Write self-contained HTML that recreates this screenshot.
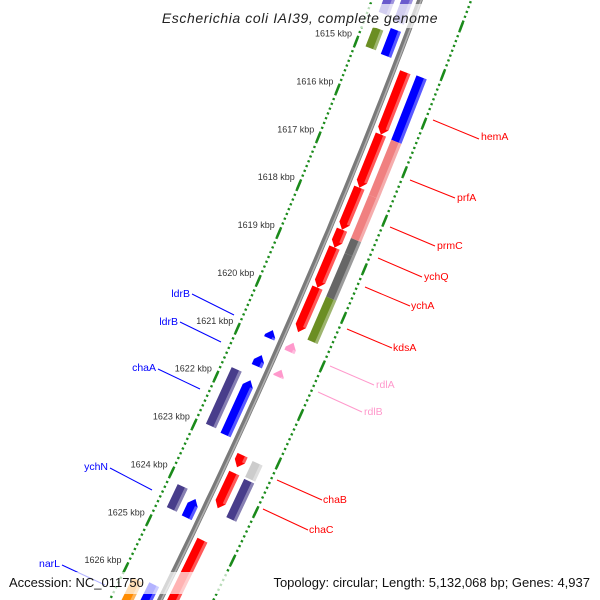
<!DOCTYPE html>
<html><head><meta charset="utf-8">
<style>
html,body{margin:0;padding:0;background:#fff;width:600px;height:600px;overflow:hidden;}
svg{display:block;font-family:"Liberation Sans",sans-serif;}
</style></head>
<body>
<svg id="map" width="600" height="600" viewBox="0 0 600 600" xmlns="http://www.w3.org/2000/svg">
<g id="ticks"></g>
<g id="backbone"></g>
<g id="genes"></g>
<g font-size="10.5">
 <g stroke="#f00" stroke-width="1">
  <line x1="433" y1="120" x2="479" y2="139"/><line x1="410" y1="180" x2="455" y2="198"/>
  <line x1="390" y1="227" x2="435" y2="246"/><line x1="378" y1="258" x2="422" y2="277"/>
  <line x1="365" y1="287" x2="410" y2="306"/><line x1="347" y1="329" x2="392" y2="348"/>
  <line x1="277" y1="480" x2="322" y2="500"/><line x1="263" y1="509" x2="308" y2="530"/>
 </g>
 <g stroke="#ff99cc" stroke-width="1">
  <line x1="330" y1="366" x2="374" y2="385"/><line x1="318" y1="392" x2="362" y2="412"/>
 </g>
 <g stroke="#00f" stroke-width="1">
  <line x1="192" y1="294" x2="234" y2="315"/><line x1="180" y1="322" x2="221" y2="342"/>
  <line x1="158" y1="369" x2="200" y2="389"/><line x1="110" y1="468" x2="152" y2="490"/>
  <line x1="62" y1="565" x2="105" y2="585"/>
 </g>
 <g fill="#f00">
  <text x="481" y="140">hemA</text>
  <text x="457" y="201">prfA</text>
  <text x="437" y="249">prmC</text>
  <text x="424" y="280">ychQ</text>
  <text x="411" y="309">ychA</text>
  <text x="393" y="351">kdsA</text>
  <text x="323" y="503">chaB</text>
  <text x="309" y="533">chaC</text>
 </g>
 <g fill="#ff99cc">
  <text x="376" y="388">rdlA</text>
  <text x="364" y="415">rdlB</text>
 </g>
 <g fill="#00f" text-anchor="end">
  <text x="190" y="297">ldrB</text>
  <text x="178" y="325">ldrB</text>
  <text x="156" y="371">chaA</text>
  <text x="108" y="470">ychN</text>
  <text x="60" y="567">narL</text>
 </g>
</g>
<rect x="158" y="4" width="284" height="24" fill="#fff" opacity="0.7"/>
<text x="300" y="23" text-anchor="middle" font-size="14" font-style="italic" fill="#222" letter-spacing="0.6">Escherichia coli IAI39, complete genome</text>
<rect x="0" y="572" width="600" height="22" fill="#fff" opacity="0.7"/>
<text x="9" y="587" font-size="13" fill="#111">Accession: NC_011750</text>
<text x="590" y="587" font-size="13" fill="#111" text-anchor="end">Topology: circular; Length: 5,132,068 bp; Genes: 4,937</text>
</svg>
<script>
// gene data (kbp)
const geneStart = [1615.21,1616.50,1617.60,1618.47,1618.84,1619.67,1623.14,1623.51,1624.90,
  1615.19,1616.52,1617.66,1618.55,1618.86,1619.76,1623.16,1623.53,
  1620.81,1621.37,
  1613.20,1614.51,1620.75,1621.27,1621.79,1624.26,1626.04,
  1613.20,1614.61,1621.71,1624.15,1626.10];
const geneEnd = [1616.50,1617.60,1618.47,1618.84,1619.67,1620.59,1623.39,1624.24,1626.70,
  1616.52,1617.66,1618.55,1618.86,1619.76,1620.65,1623.49,1624.32,
  1621.00,1621.52,
  1614.36,1615.05,1620.92,1621.50,1622.93,1624.65,1626.80,
  1614.30,1615.02,1622.89,1624.63,1626.80];
const geneTrack = [1,1,1,1,1,1,1,1,1, 2,2,2,2,2,2,2,2, 1,1, -1,-1,-1,-1,-1,-1,-1, -2,-2,-2,-2,-2];
const geneTip = ["end","end","end","end","end","end","end","end","none",
  "none","none","none","none","none","none","none","none",
  "start","start",
  "none","none","start","start","start","start","none",
  "none","none","none","none","none"];
const geneColor = ["#f00","#f00","#f00","#f00","#f00","#f00","#f00","#f00","#f00",
  "#00f","#f08080","#f08080","#666","#666","#6b8e23","#ccc","#483d8b",
  "#ff99cc","#ff99cc",
  "#6a5acd","#00f","#00f","#00f","#00f","#00f","#00f",
  "#6a5acd","#6b8e23","#483d8b","#483d8b","#ff8c00"];
const tickMin = 1613, tickMax = 1627;
const labelKbp = [1615,1616,1617,1618,1619,1620,1621,1622,1623,1624,1625,1626];

const NS = "http://www.w3.org/2000/svg";
function xc(t){return 420-0.3733*t-0.0001*t*t;}
function pt(t,r){const dx=-0.3733-0.0002*t;const L=Math.hypot(dx,1);const tx=dx/L,ty=1/L;return [xc(t)+r*ty, t-r*tx];}
function kt(k){return 106+48.2*(k-1616);}
const trackR = {"1":12,"2":29,"-1":-12,"-2":-29};
function mk(tag,attrs,parent){const e=document.createElementNS(NS,tag);for(const a in attrs)e.setAttribute(a,attrs[a]);parent.appendChild(e);return e;}
function poly(ps){return ps.map(p=>p[0].toFixed(1)+","+p[1].toFixed(1)).join(" ");}

// backbone
const bb=document.getElementById("backbone");
let d1=[],d2=[];
for(let t=-30;t<=640;t+=10){d1.push(pt(t,0));d2.push(pt(t,1.2));}
let p1=mk("polyline",{points:poly(d1),fill:"none",stroke:"#7a7a7a","stroke-width":5.5},bb);


let p2=mk("polyline",{points:poly(d2),fill:"none",stroke:"#b0b0b0","stroke-width":1.5},bb);



// ticks
const tg=document.getElementById("ticks");
for(let k10=tickMin*10;k10<=tickMax*10;k10++){
  const t=kt(k10/10);
  [-45,48].forEach(r=>{
    if(k10%10===0){
      const a=pt(t-4,r),b=pt(t+4,r);
      const l=mk("line",{x1:a[0],y1:a[1],x2:b[0],y2:b[1],stroke:"#1a8a1a","stroke-width":2.6},tg);
      
      
    } else {
      const a=pt(t-1,r),b=pt(t+1,r);
      const l=mk("line",{x1:a[0],y1:a[1],x2:b[0],y2:b[1],stroke:"#1a8a1a","stroke-width":2.4},tg);
      
      
    }
  });
}
labelKbp.forEach(k=>{
  const p=pt(kt(k),-45);
  const tx=mk("text",{x:p[0]-4,y:p[1]-5,"text-anchor":"end","font-size":9,fill:"#333"},tg);
  tx.textContent=k+" kbp";
  
  
});

// genes
const gg=document.getElementById("genes");
for(let i=0;i<geneStart.length;i++){
  const s0=kt(geneStart[i]),s1=kt(geneEnd[i]);
  const c=trackR[geneTrack[i]],r0=c-5.5,r1=c+5.5;
  const h=Math.min(6,s1-s0);
  let ps;
  if(geneTip[i]==="end") ps=[pt(s0,r0),pt(s1-h,r0),pt(s1,c),pt(s1-h,r1),pt(s0,r1)];
  else if(geneTip[i]==="start") ps=[pt(s0,c),pt(s0+h,r0),pt(s1,r0),pt(s1,r1),pt(s0+h,r1)];
  else ps=[pt(s0,r0),pt(s1,r0),pt(s1,r1),pt(s0,r1)];
  const g=mk("polygon",{points:poly(ps),fill:geneColor[i]},gg);
  
  
  const a0=geneTip[i]==="start"?s0+h:s0, a1=geneTip[i]==="end"?s1-h:s1;
  if(a1>a0){
    const st=mk("polygon",{points:poly([pt(a0,r1-3),pt(a1,r1-3),pt(a1,r1),pt(a0,r1)]),fill:"#fff",opacity:0.35},gg);
    
    
  }
}
</script>
</body></html>
